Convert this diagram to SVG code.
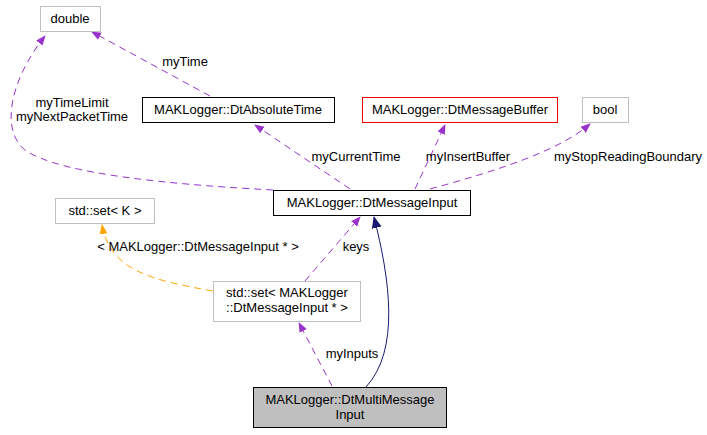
<svg xmlns="http://www.w3.org/2000/svg" width="707" height="435" viewBox="0 0 707 435">
<style>
text{font-family:"Liberation Sans",Arial,sans-serif;font-size:13px;fill:#000}
.n{fill:#fff;stroke:#000;stroke-width:1}
.r{fill:#fff;stroke:#ff0000;stroke-width:1}
.g{fill:#fff;stroke:#bfbfbf;stroke-width:1}
.d{fill:none;stroke:#9a32cd;stroke-dasharray:7,5}
.o{fill:none;stroke:#ffa500;stroke-dasharray:7,5}
.s{fill:none;stroke:#191970}
</style>
<defs>
<marker id="mp" markerWidth="10" markerHeight="10" refX="9" refY="5" orient="auto" markerUnits="userSpaceOnUse"><path d="M0,1 L10,5 L0,9 z" fill="#9a32cd"/></marker>
<marker id="mo" markerWidth="10" markerHeight="10" refX="9" refY="5" orient="auto" markerUnits="userSpaceOnUse"><path d="M0,1 L10,5 L0,9 z" fill="#ffa500"/></marker>
<marker id="mn" markerWidth="12" markerHeight="12" refX="11" refY="6" orient="auto" markerUnits="userSpaceOnUse"><path d="M0,1 L12,6 L0,11 z" fill="#191970"/></marker>
</defs>
<g id="connectors">
<path class="d" d="M210,96 L92,32" marker-end="url(#mp)"/>
<text x="185" y="66" text-anchor="middle">myTime</text>
<path class="d" d="M273,190 C180,185 60,175 25,150 C0,130 10,80 45,36" marker-end="url(#mp)"/>
<text x="72" y="107" text-anchor="middle">myTimeLimit</text>
<text x="72" y="121" text-anchor="middle">myNextPacketTime</text>
<path class="d" d="M350,189 L255,125" marker-end="url(#mp)"/>
<text x="356" y="161" text-anchor="middle">myCurrentTime</text>
<path class="d" d="M415,189 L445,125" marker-end="url(#mp)"/>
<text x="468" y="161" text-anchor="middle">myInsertBuffer</text>
<path class="d" d="M430,189 C500,170 560,150 590,124" marker-end="url(#mp)"/>
<text x="628" y="161" text-anchor="middle">myStopReadingBoundary</text>
<path class="d" d="M305,281 L360,217" marker-end="url(#mp)"/>
<text x="356" y="251" text-anchor="middle">keys</text>
<path class="o" d="M213,291 C150,280 110,270 102,225" marker-end="url(#mo)"/>
<text x="198" y="251" text-anchor="middle">&lt; MAKLogger::DtMessageInput * &gt;</text>
<path class="d" d="M332,386 L299,323" marker-end="url(#mp)"/>
<text x="352" y="358" text-anchor="middle">myInputs</text>
<path class="s" d="M366,387 C400,350 390,280 374,217" marker-end="url(#mn)"/>
</g>
<g id="double"><rect class="g" x="40.5" y="6.5" width="60" height="25"/><text x="70" y="23" text-anchor="middle">double</text></g>
<g id="absTime"><rect class="n" x="142.5" y="97.5" width="192" height="25"/><text x="238" y="114" text-anchor="middle">MAKLogger::DtAbsoluteTime</text></g>
<g id="msgBuffer"><rect class="r" x="362.5" y="97.5" width="195" height="25"/><text x="460" y="114" text-anchor="middle">MAKLogger::DtMessageBuffer</text></g>
<g id="bool"><rect class="g" x="582.5" y="97.5" width="46" height="25"/><text x="605" y="114" text-anchor="middle">bool</text></g>
<g id="msgInput"><rect class="n" x="273.5" y="190.5" width="197" height="25"/><text x="372" y="207" text-anchor="middle">MAKLogger::DtMessageInput</text></g>
<g id="setK"><rect class="g" x="55.5" y="198.5" width="99" height="25"/><text x="105" y="215" text-anchor="middle">std::set&lt; K &gt;</text></g>
<g id="setMsg"><rect class="g" x="213.5" y="281.5" width="147" height="40"/><text x="287" y="297" text-anchor="middle">std::set&lt; MAKLogger</text><text x="287" y="312" text-anchor="middle">::DtMessageInput * &gt;</text></g>
<g id="multi"><rect x="253.5" y="387.5" width="193" height="40" fill="#bfbfbf" stroke="#000"/><text x="350" y="404" text-anchor="middle">MAKLogger::DtMultiMessage</text><text x="350" y="419" text-anchor="middle">Input</text></g>
</svg>
